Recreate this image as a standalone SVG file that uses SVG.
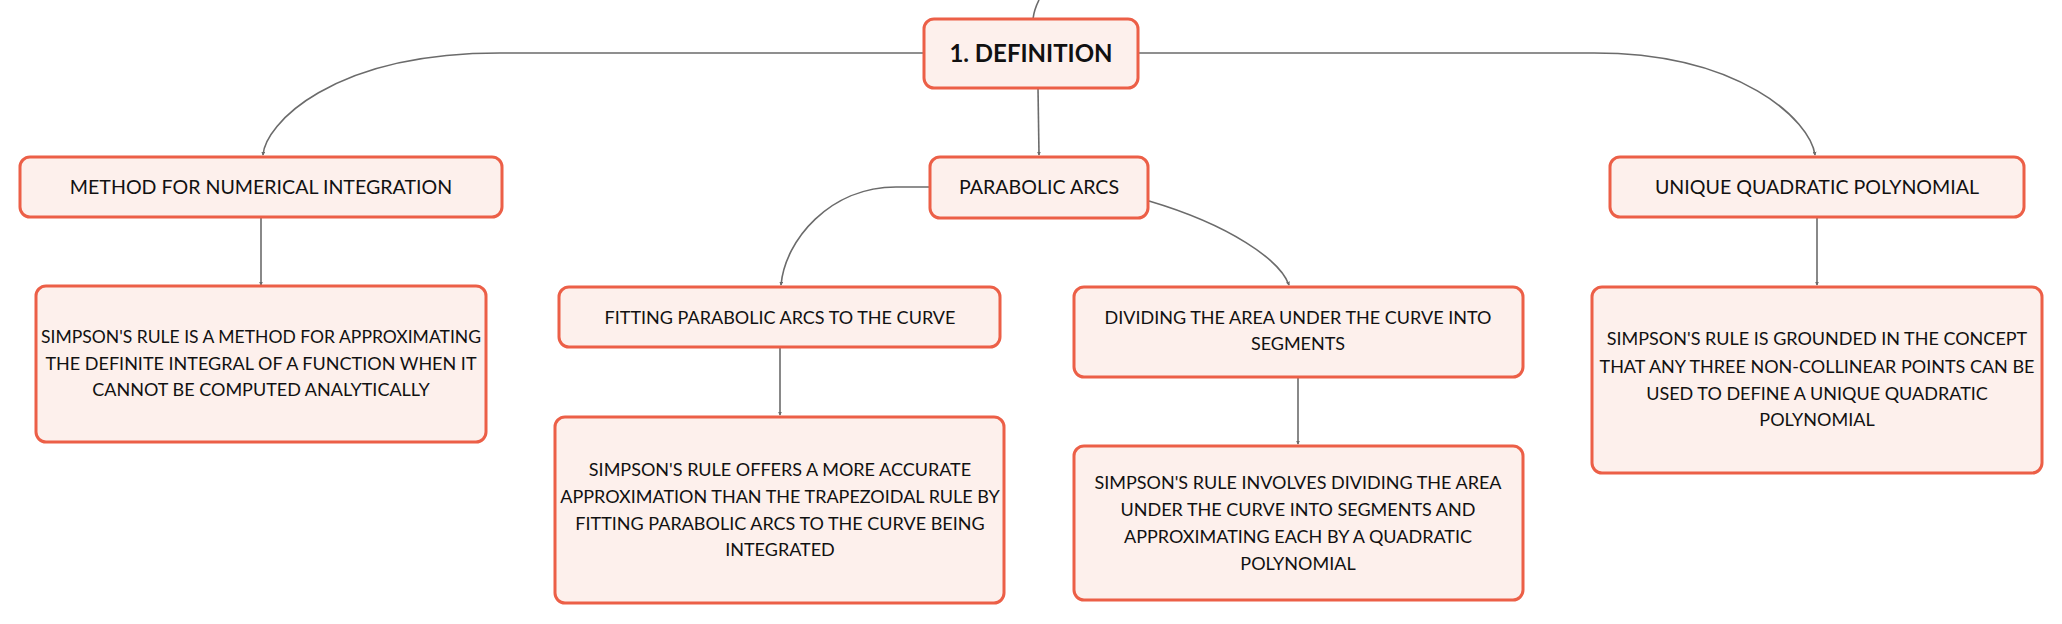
<svg xmlns="http://www.w3.org/2000/svg" width="2062" height="624" viewBox="0 0 2062 624">
<defs>
<marker id="arr" viewBox="0 0 6 6" refX="5" refY="3" markerWidth="4" markerHeight="4" orient="auto" markerUnits="userSpaceOnUse">
<path d="M0,0 L6,3 L0,6 z" fill="#6b6b6b"/>
</marker>
<style>
.box{fill:#fdf0ec;stroke:#ec5f47;stroke-width:3}
.t{font-family:Lato,"Liberation Sans",sans-serif;fill:#111111;text-anchor:middle}
.l2{font-size:19.6px}
.l3{font-size:18px}
.root{font-size:24px;font-weight:bold}
.c{fill:none;stroke:#6b6b6b;stroke-width:1.6}
</style>
</defs>
<rect width="2062" height="624" fill="#ffffff"/>
<g id="connectors">
<path class="c" d="M1033 19 C1034 10 1037 4 1039 0"/>
<path class="c" d="M924 53 L500 53 C330 53 265 125 263 155" marker-end="url(#arr)"/>
<path class="c" d="M1138 53 L1594 53 C1740 53 1810 120 1815 155" marker-end="url(#arr)"/>
<path class="c" d="M1038 88 L1039 155" marker-end="url(#arr)"/>
<path class="c" d="M261 217 L261 285" marker-end="url(#arr)"/>
<path class="c" d="M930 187 L896 187 C830 187 785 240 781 285" marker-end="url(#arr)"/>
<path class="c" d="M1149 201 C1230 225 1280 260 1289 285" marker-end="url(#arr)"/>
<path class="c" d="M780 347 L780 415" marker-end="url(#arr)"/>
<path class="c" d="M1298 377 L1298 444" marker-end="url(#arr)"/>
<path class="c" d="M1817 217 L1817 285" marker-end="url(#arr)"/>
</g>
<g id="n-definition">
<rect class="box" x="924" y="19" width="214" height="69" rx="10"/>
<text class="t root" x="1031" y="62">1. DEFINITION</text>
</g>
<g id="n-method">
<rect class="box" x="20" y="157" width="482" height="60" rx="10"/>
<text class="t l2" x="261" y="194">METHOD FOR NUMERICAL INTEGRATION</text>
</g>
<g id="n-parabolic">
<rect class="box" x="930" y="157" width="218" height="61" rx="10"/>
<text class="t l2" x="1039" y="194">PARABOLIC ARCS</text>
</g>
<g id="n-unique">
<rect class="box" x="1610" y="157" width="414" height="60" rx="10"/>
<text class="t l2" x="1817" y="194">UNIQUE QUADRATIC POLYNOMIAL</text>
</g>
<g id="n-method-desc">
<rect class="box" x="36" y="286" width="450" height="156" rx="10"/>
<text class="t l3" x="261" y="342.5" textLength="440" lengthAdjust="spacingAndGlyphs">SIMPSON'S RULE IS A METHOD FOR APPROXIMATING</text>
<text class="t l3" x="261" y="369.5">THE DEFINITE INTEGRAL OF A FUNCTION WHEN IT</text>
<text class="t l3" x="261" y="395.5">CANNOT BE COMPUTED ANALYTICALLY</text>
</g>
<g id="n-fitting">
<rect class="box" x="559" y="287" width="441" height="60" rx="10"/>
<text class="t l3" x="780" y="323.5">FITTING PARABOLIC ARCS TO THE CURVE</text>
</g>
<g id="n-fitting-desc">
<rect class="box" x="555" y="417" width="449" height="186" rx="10"/>
<text class="t l3" x="780" y="475.5">SIMPSON'S RULE OFFERS A MORE ACCURATE</text>
<text class="t l3" x="780" y="502.5">APPROXIMATION THAN THE TRAPEZOIDAL RULE BY</text>
<text class="t l3" x="780" y="529.5">FITTING PARABOLIC ARCS TO THE CURVE BEING</text>
<text class="t l3" x="780" y="555.5">INTEGRATED</text>
</g>
<g id="n-dividing">
<rect class="box" x="1074" y="287" width="449" height="90" rx="10"/>
<text class="t l3" x="1298" y="323.5">DIVIDING THE AREA UNDER THE CURVE INTO</text>
<text class="t l3" x="1298" y="349.5">SEGMENTS</text>
</g>
<g id="n-dividing-desc">
<rect class="box" x="1074" y="446" width="449" height="154" rx="10"/>
<text class="t l3" x="1298" y="488.5">SIMPSON'S RULE INVOLVES DIVIDING THE AREA</text>
<text class="t l3" x="1298" y="515.5">UNDER THE CURVE INTO SEGMENTS AND</text>
<text class="t l3" x="1298" y="542.5">APPROXIMATING EACH BY A QUADRATIC</text>
<text class="t l3" x="1298" y="569.5">POLYNOMIAL</text>
</g>
<g id="n-unique-desc">
<rect class="box" x="1592" y="287" width="450" height="186" rx="10"/>
<text class="t l3" x="1817" y="344.5">SIMPSON'S RULE IS GROUNDED IN THE CONCEPT</text>
<text class="t l3" x="1817" y="372.5">THAT ANY THREE NON-COLLINEAR POINTS CAN BE</text>
<text class="t l3" x="1817" y="399.5">USED TO DEFINE A UNIQUE QUADRATIC</text>
<text class="t l3" x="1817" y="425.5">POLYNOMIAL</text>
</g>
</svg>
